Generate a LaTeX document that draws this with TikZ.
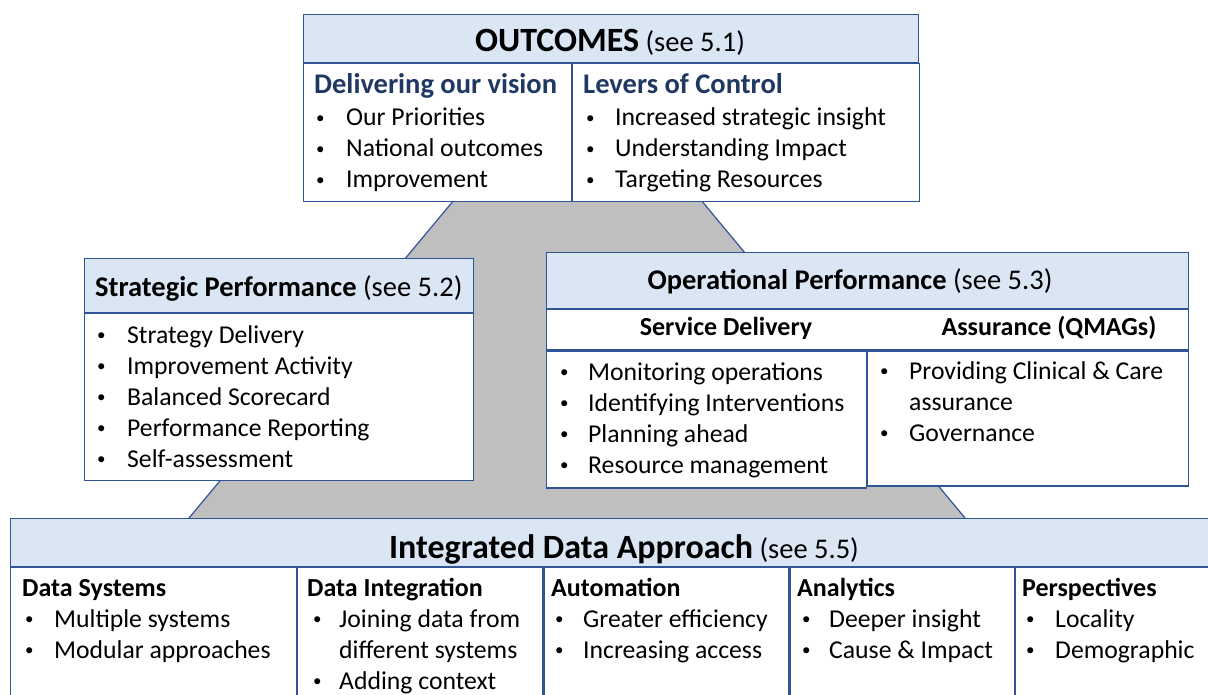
\documentclass[tikz,border=0pt]{standalone}
\usepackage{fontspec}
\setmainfont{Carlito}
\usetikzlibrary{positioning}
\definecolor{boxline}{HTML}{2F5597}
\definecolor{headfill}{HTML}{DAE6F4}
\definecolor{navy}{HTML}{1F3864}
\definecolor{pyramid}{HTML}{BFBFBF}
\newcommand{\bodysize}{\fontsize{25.7}{31}\selectfont}
\newcommand{\subsize}{\fontsize{26}{31}\selectfont}
\newcommand{\titlesize}{\fontsize{28.5}{34}\selectfont}
\newcommand{\bigsize}{\fontsize{34}{40}\selectfont}
% small bullet, as in the slides
\newcommand{\bt}{\raisebox{2.5pt}{\fontsize{17}{17}\selectfont\textbullet}}
% bullet list, continuation lines start with &
\newcommand{\blist}[2][29pt]{%
  \begin{tabular}[t]{@{}p{#1}@{}l@{}}#2\end{tabular}}
\tikzset {
  panel/.style = {
    draw = boxline,
    line width = 1.2pt,
    inner sep = 0,
    anchor = north west
  },
  % light blue strip on top of a block
  head box/.style = {
    panel,
    fill = headfill
  },
  % white part under a strip
  body box/.style = {
    panel,
    fill = white
  },
  % texts, placed by their baseline
  title text/.style = {
    anchor = base,
    inner sep = 0,
    font = \titlesize
  },
  sub text/.style = {
    anchor = base west,
    inner sep = 0,
    font = \subsize\bfseries
  },
  list text/.style = {
    anchor = base west,
    inner sep = 0,
    font = \bodysize
  }
}
\begin{document}
\begin{tikzpicture}[x = 1pt, y = -1pt]
  \useasboundingbox (0,0) rectangle (1208,695);

  % grey pyramid behind the blocks
  \fill[pyramid] (454,200) -- (701,200) -- (965,518) -- (189,518) -- cycle;
  \draw[boxline, line width = 1.2pt] (454,200) -- (189,518);
  \draw[boxline, line width = 1.2pt] (701,200) -- (965,518);

  % outcomes
  \node[head box, minimum width = 615pt, minimum height = 48pt] (outhead) at (303,14) {};
  \node[body box, minimum width = 268pt, minimum height = 138pt] (vision)
    [below right = 0pt and 0pt of outhead.south west] {};
  \node[body box, minimum width = 347pt, minimum height = 138pt] (levers)
    [below right = 0pt and 0pt of vision.north east] {};
  \node[title text] (outtitle) at (610,52) {{\bigsize\bfseries OUTCOMES} (see 5.1)};
  \node[sub text, font = \titlesize\bfseries, text = navy] (visiontitle) at (314,94) {Delivering our vision};
  \node[sub text, font = \titlesize\bfseries, text = navy] (leverstitle) at (583,94) {Levers of Control};
  \node[list text] (visionlist) at (316,126) {\blist[30pt]{
    \bt & Our Priorities\\
    \bt & National outcomes\\
    \bt & Improvement}};
  \node[list text] (leverslist) at (586,126) {\blist{
    \bt & Increased strategic insight\\
    \bt & Understanding Impact\\
    \bt & Targeting Resources}};

  % strategic performance
  \node[head box, minimum width = 389pt, minimum height = 54pt] (strathead) at (84,258) {};
  \node[body box, minimum width = 389pt, minimum height = 167pt] (stratbody)
    [below right = 0pt and 0pt of strathead.south west] {};
  \node[sub text, font = \titlesize] (strattitle) at (95,296) {\textbf{Strategic Performance} (see 5.2)};
  \node[list text] (stratlist) at (97,343) {\blist[30pt]{
    \bt & Strategy Delivery\\
    \bt & Improvement Activity\\
    \bt & Balanced Scorecard\\
    \bt & Performance Reporting\\
    \bt & Self-assessment}};

  % operational performance
  \node[head box, minimum width = 642pt, minimum height = 56pt] (ophead) at (546,252) {};
  \node[body box, minimum width = 642pt, minimum height = 40pt] (opsub)
    [below right = 0pt and 0pt of ophead.south west] {};
  \node[body box, minimum width = 320pt, minimum height = 137pt] (service)
    [below right = 0pt and 0pt of opsub.south west] {};
  \node[body box, minimum width = 321pt, minimum height = 135pt] (assure)
    [below right = 0pt and 0pt of service.north east] {};
  \node[title text] (optitle) at (850,290) {\textbf{Operational Performance} (see 5.3)};
  \node[sub text, anchor = base] (servicetitle) at (726,335) {Service Delivery};
  \node[sub text, anchor = base] (assuretitle) at (1049,335) {Assurance (QMAGs)};
  \node[list text] (servicelist) at (560,380) {\blist[28pt]{
    \bt & Monitoring operations\\
    \bt & Identifying Interventions\\
    \bt & Planning ahead\\
    \bt & Resource management}};
  \node[list text] (assurelist) at (880,379) {\blist{
    \bt & Providing Clinical \& Care\\
     & assurance\\
    \bt & Governance}};

  % integrated data approach
  \node[head box, minimum width = 1250pt, minimum height = 48pt] (datahead) at (10,518) {};
  \node[body box, minimum width = 286pt, minimum height = 160pt] (systems)
    [below right = 0pt and 0pt of datahead.south west] {};
  \node[body box, minimum width = 245pt, minimum height = 160pt] (integration)
    [below right = 0pt and 0pt of systems.north east] {};
  \node[body box, minimum width = 245pt, minimum height = 160pt] (automation)
    [below right = 0pt and 0pt of integration.north east] {};
  \node[body box, minimum width = 224pt, minimum height = 160pt] (analytics)
    [below right = 0pt and 0pt of automation.north east] {};
  \node[body box, minimum width = 250pt, minimum height = 160pt] (perspect)
    [below right = 0pt and 0pt of analytics.north east] {};
  \node[title text] (datatitle) at (624,558) {{\bigsize\bfseries Integrated Data Approach} (see 5.5)};

  \node[sub text] (systemstitle) at (22,596) {Data Systems};
  \node[sub text] (integrationtitle) at (307,596) {Data Integration};
  \node[sub text] (automationtitle) at (551,596) {Automation};
  \node[sub text] (analyticstitle) at (797,596) {Analytics};
  \node[sub text] (perspecttitle) at (1022,596) {Perspectives};

  \node[list text] (systemslist) at (25,627) {\blist{
    \bt & Multiple systems\\
    \bt & Modular approaches}};
  \node[list text] (integrationlist) at (313,627) {\blist[26pt]{
    \bt & Joining data from\\
     & different systems\\
    \bt & Adding context}};
  \node[list text] (automationlist) at (555,627) {\blist[28pt]{
    \bt & Greater efficiency\\
    \bt & Increasing access}};
  \node[list text] (analyticslist) at (802,627) {\blist[27pt]{
    \bt & Deeper insight\\
    \bt & Cause \& Impact}};
  \node[list text] (perspectlist) at (1026,627) {\blist{
    \bt & Locality\\
    \bt & Demographic}};
\end{tikzpicture}
\end{document}
